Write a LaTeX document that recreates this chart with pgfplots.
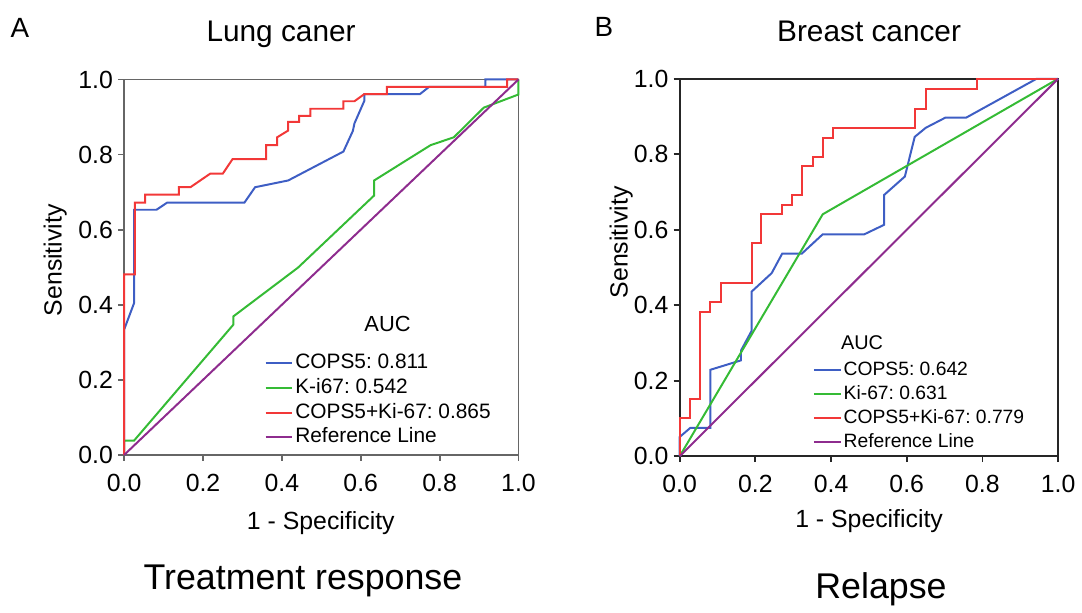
\documentclass[border=0pt]{standalone}
\usepackage{fontspec}
\setmainfont{Liberation Sans}
\usepackage{pgfplots}
\pgfplotsset{compat=1.18}
\frenchspacing
\definecolor{rocBlue}{HTML}{3E5EC4}
\definecolor{rocGreen}{HTML}{35BB35}
\definecolor{rocRed}{HTML}{F23838}
\definecolor{rocPurple}{HTML}{8E2C8E}

\pgfplotsset{
  rocaxis/.style={
    scale only axis, anchor=south west,
    xmin=0, xmax=1, ymin=0, ymax=1,
    xtick={0,0.2,0.4,0.6,0.8,1}, ytick={0,0.2,0.4,0.6,0.8,1},
    tick pos=left, tick align=outside, major tick length=3pt,
    /pgf/number format/fixed, /pgf/number format/fixed zerofill,
    /pgf/number format/precision=1, /pgf/number format/assume math mode=true,
    tick label style={font=\fontsize{12.5}{14}\selectfont},
    yticklabel style={inner sep=2.5pt},
    xticklabel style={yshift=-3pt},
    clip=false,
    legend cell align=left,
    legend image code/.code={\draw[#1,line width=1pt] (0pt,0pt) -- (13.5pt,0pt);},
  },
  every axis plot/.append style={line width=1pt},
}

\begin{document}
\begin{tikzpicture}
\path (0pt,0pt) rectangle (541pt,-305pt);

% panel A
\begin{axis}[rocaxis, at={(62.5pt,-229pt)}, width=198.5pt, height=189pt,
  axis line style={draw=black!60, line width=0.9pt}, tick style={draw=black!60, line width=0.9pt},
  legend style={at={(0.355,0.279)}, anchor=north west, draw=none, fill=none, inner sep=0pt,
    font=\fontsize{10.5}{12}\selectfont,
    nodes={inner sep=1pt, text height=8pt, text depth=2.5pt}, row sep=0pt}]
\addplot[rocBlue] coordinates {
  (0,0) (0,0.334) (0.025,0.404) (0.025,0.653) (0.082,0.653) (0.109,0.672)
  (0.305,0.672) (0.332,0.713) (0.416,0.731) (0.556,0.808) (0.580,0.863)
  (0.584,0.883) (0.609,0.943) (0.609,0.961) (0.750,0.961) (0.773,0.980)
  (0.916,0.980) (0.916,1.0) (1,1)};
\addlegendentry{COPS5: 0.811}
\addplot[rocGreen] coordinates {
  (0,0) (0,0.038) (0.025,0.038) (0.277,0.347) (0.277,0.369) (0.441,0.499)
  (0.634,0.691) (0.634,0.731) (0.777,0.825) (0.836,0.846) (0.912,0.925)
  (1,0.960) (1,1)};
\addlegendentry{K-i67: 0.542}
\addplot[rocRed] coordinates {
  (0,0) (0,0.481) (0.027,0.481) (0.027,0.672) (0.053,0.672) (0.053,0.693)
  (0.139,0.693) (0.139,0.713) (0.168,0.713) (0.218,0.749) (0.250,0.749)
  (0.275,0.788) (0.360,0.788) (0.360,0.825) (0.388,0.825) (0.388,0.846)
  (0.416,0.864) (0.416,0.887) (0.444,0.887) (0.444,0.903) (0.472,0.903)
  (0.472,0.922) (0.556,0.922) (0.556,0.942) (0.584,0.942) (0.609,0.961)
  (0.666,0.961) (0.666,0.980) (0.971,0.980) (0.971,1.0) (1,1)};
\addlegendentry{COPS5+Ki-67: 0.865}
\addplot[rocPurple] coordinates {(0,0) (1,1)};
\addlegendentry{Reference Line}
\node[font=\fontsize{11}{13}\selectfont] at (axis description cs:0.668,0.348) {AUC};
\end{axis}

% panel B
\begin{axis}[rocaxis, at={(342.15pt,-229.65pt)}, width=190.5pt, height=190pt,
  axis line style={draw=black!85, line width=0.9pt}, tick style={draw=black!85, line width=0.9pt},
  legend style={at={(0.351,0.260)}, anchor=north west, draw=none, fill=none, inner sep=0pt,
    font=\fontsize{9.7}{11}\selectfont,
    nodes={inner sep=1pt, text height=7.6pt, text depth=2.4pt}, row sep=0pt}]
\addplot[rocBlue] coordinates {
  (0,0) (0,0.051) (0.028,0.075) (0.081,0.075) (0.081,0.229) (0.162,0.254)
  (0.162,0.280) (0.190,0.332) (0.190,0.436) (0.243,0.485) (0.271,0.537)
  (0.323,0.537) (0.378,0.588) (0.488,0.588) (0.540,0.613) (0.540,0.692)
  (0.595,0.741) (0.621,0.846) (0.650,0.870) (0.702,0.897) (0.757,0.897)
  (0.943,1.0) (1,1)};
\addlegendentry{COPS5: 0.642}
\addplot[rocGreen] coordinates {(0,0) (0.378,0.641) (1,1)};
\addlegendentry{Ki-67: 0.631}
\addplot[rocRed] coordinates {
  (0,0) (0,0.101) (0.028,0.101) (0.028,0.152) (0.054,0.152) (0.054,0.382)
  (0.081,0.382) (0.081,0.408) (0.109,0.408) (0.109,0.460) (0.190,0.460)
  (0.190,0.564) (0.216,0.564) (0.216,0.641) (0.271,0.641) (0.271,0.666)
  (0.298,0.666) (0.298,0.692) (0.324,0.692) (0.324,0.768) (0.352,0.768)
  (0.352,0.793) (0.378,0.793) (0.378,0.844) (0.406,0.844) (0.406,0.870)
  (0.622,0.870) (0.622,0.921) (0.650,0.921) (0.650,0.973) (0.785,0.973)
  (0.785,1.0) (1,1)};
\addlegendentry{COPS5+Ki-67: 0.779}
\addplot[rocPurple] coordinates {(0,0) (1,1)};
\addlegendentry{Reference Line}
\node[font=\fontsize{10}{12}\selectfont] at (axis description cs:0.482,0.300) {AUC};
\end{axis}

% panel letters, titles and labels
\node[anchor=base, font=\fontsize{14}{16}\selectfont] at (10pt,-19pt) {A};
\node[anchor=base, font=\fontsize{15}{18}\selectfont] at (141.5pt,-21pt) {Lung caner};
\node[anchor=base, font=\fontsize{14}{16}\selectfont] at (304pt,-18.5pt) {B};
\node[anchor=base, font=\fontsize{15}{18}\selectfont] at (437.5pt,-21pt) {Breast cancer};
\node[anchor=base, rotate=90, font=\fontsize{12.5}{14}\selectfont] at (31pt,-131pt) {Sensitivity};
\node[anchor=base, rotate=90, font=\fontsize{12.5}{14}\selectfont] at (316pt,-122pt) {Sensitivity};
\node[anchor=base, font=\fontsize{12.5}{14}\selectfont] at (161.5pt,-266.5pt) {1 - Specificity};
\node[anchor=base, font=\fontsize{12.5}{14}\selectfont] at (437.5pt,-265.5pt) {1 - Specificity};
\node[anchor=base, font=\fontsize{18}{21}\selectfont] at (152.5pt,-296.5pt) {Treatment response};
\node[anchor=base, font=\fontsize{18}{21}\selectfont] at (443.5pt,-301.5pt) {Relapse};
\end{tikzpicture}
\end{document}
